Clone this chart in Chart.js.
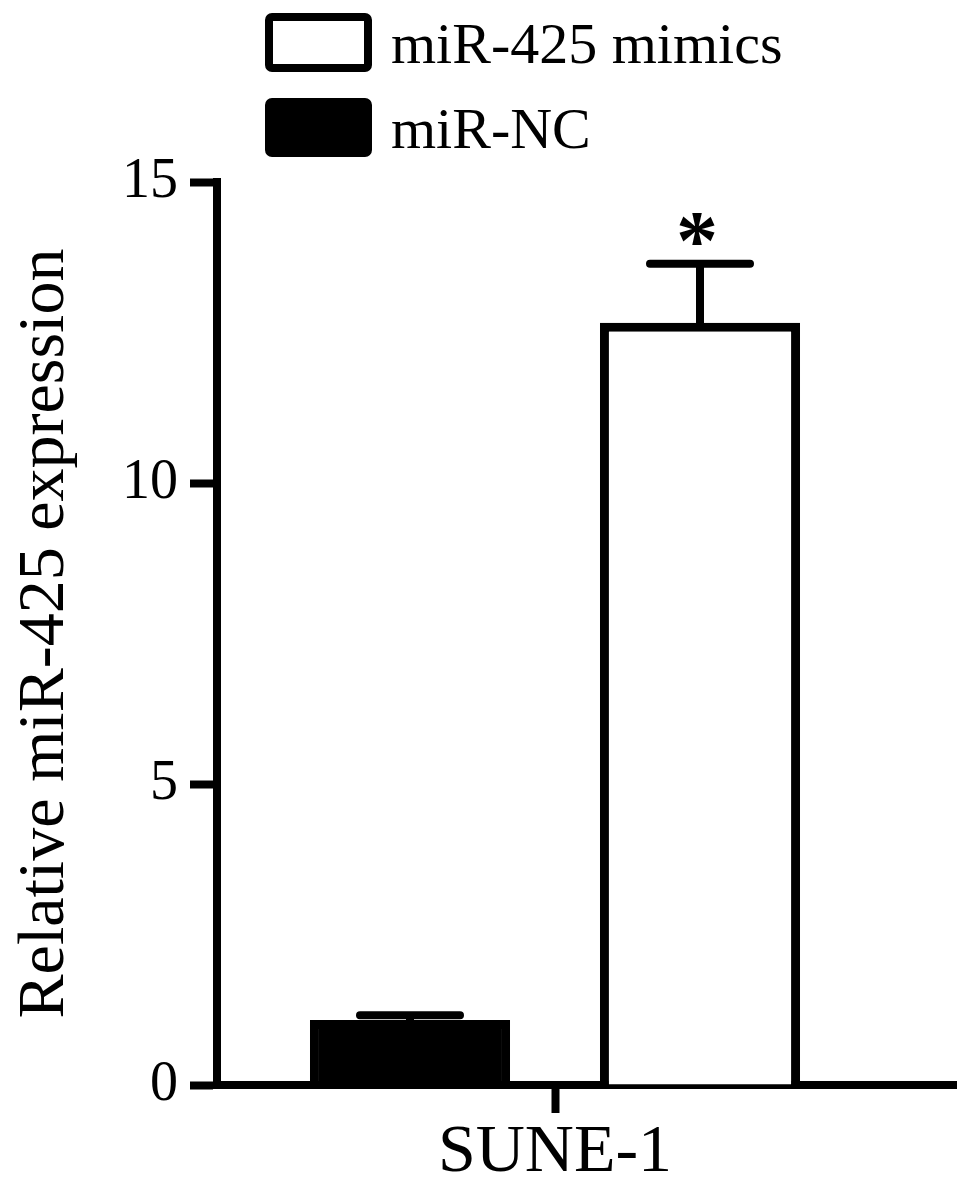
<!DOCTYPE html>
<html>
<head>
<meta charset="utf-8">
<script src="https://cdn.jsdelivr.net/npm/chart.js@4/dist/chart.umd.min.js"></script>
<style>
  html, body { margin: 0; padding: 0; background: #fff; }
  #wrap { width: 969px; height: 1188px; position: relative; }
</style>
</head>
<body>
<div id="wrap"><canvas id="chart"></canvas></div>
<script>
// ---------------- Data ----------------
const categories = ["SUNE-1"];
const ncLabel = "miR-NC";
const ncValues = [1.08];
const ncErrors = [0.08];
const mimicLabel = "miR-425 mimics";
const mimicValues = [12.66];
const mimicErrors = [0.98];
const mimicMarks = ["*"];
const yMin = 0, yMax = 15, yStep = 5;
const yTitle = "Relative miR-425 expression";

const SERIF = "'Liberation Serif', 'Times New Roman', serif";

// ---------------- Error bars + asterisk ----------------
const errorBars = {
  id: "errorBars",
  afterDatasetsDraw(chart) {
    const ctx = chart.ctx;
    const y = chart.scales.y;
    ctx.save();
    ctx.strokeStyle = "#000";
    ctx.lineWidth = 8;
    ctx.lineCap = "round";
    chart.data.datasets.forEach((ds, i) => {
      const meta = chart.getDatasetMeta(i);
      meta.data.forEach((bar, j) => {
        const err = ds.errors[j];
        const top = y.getPixelForValue(ds.data[j] + err);
        const base = y.getPixelForValue(ds.data[j]);
        ctx.beginPath();
        ctx.moveTo(bar.x, base);
        ctx.lineTo(bar.x, top);
        ctx.moveTo(bar.x - 50, top);
        ctx.lineTo(bar.x + 50, top);
        ctx.stroke();
        if (ds.marks && ds.marks[j]) {
          ctx.fillStyle = "#000";
          ctx.font = "bold 84px " + SERIF;
          ctx.textAlign = "center";
          ctx.textBaseline = "alphabetic";
          ctx.fillText(ds.marks[j], bar.x - 3, top + 5);
        }
      });
    });
    ctx.restore();
  }
};

// ---------------- Axis extension + legend ----------------
const decor = {
  id: "decor",
  afterDraw(chart) {
    const ctx = chart.ctx;
    const a = chart.chartArea;
    ctx.save();
    // x-axis line runs on past the last category
    ctx.strokeStyle = "#000";
    ctx.lineWidth = 8;
    ctx.beginPath();
    ctx.moveTo(a.right - 2, a.bottom);
    ctx.lineTo(a.right + 64, a.bottom);
    ctx.stroke();

    // legend, stacked, mimics first
    const items = chart.data.datasets.slice().reverse();
    ctx.font = "58px " + SERIF;
    ctx.textBaseline = "alphabetic";
    ctx.textAlign = "left";
    items.forEach((ds, k) => {
      const top = 17 + k * 85;
      ctx.fillStyle = ds.backgroundColor;
      ctx.strokeStyle = "#000";
      ctx.lineWidth = 8;
      ctx.beginPath();
      ctx.roundRect(269, top, 99, 51, 3);
      ctx.fill();
      ctx.stroke();
      ctx.fillStyle = "#000";
      ctx.fillText(ds.label, 391, top + 46);
    });
    ctx.restore();
  }
};

new Chart(document.getElementById("chart"), {
  type: "bar",
  data: {
    labels: categories,
    datasets: [
      {
        label: ncLabel,
        data: ncValues,
        errors: ncErrors,
        backgroundColor: "#000",
        borderColor: "#000",
        borderWidth: 9
      },
      {
        label: mimicLabel,
        data: mimicValues,
        errors: mimicErrors,
        marks: mimicMarks,
        backgroundColor: "#fff",
        borderColor: "#000",
        borderWidth: 9
      }
    ]
  },
  options: {
    responsive: true,
    maintainAspectRatio: false,
    animation: false,
    events: [],
    categoryPercentage: 0.858,
    barPercentage: 0.69,
    layout: { padding: { top: 182, right: 76, bottom: 0, left: 0 } },
    plugins: {
      legend: { display: false },
      tooltip: { enabled: false }
    },
    scales: {
      x: {
        afterFit(s) { s.height = 103; },
        border: { color: "#000", width: 8 },
        grid: {
          offset: false,
          drawOnChartArea: false,
          color: "#000",
          tickLength: 28,
          tickWidth: 8
        },
        ticks: {
          color: "#000",
          padding: -1,
          font: { family: SERIF, size: 68 }
        }
      },
      y: {
        min: yMin,
        max: yMax,
        afterFit(s) { s.width = 217; },
        border: { color: "#000", width: 8 },
        grid: {
          drawOnChartArea: false,
          color: "#000",
          tickLength: 27,
          tickWidth: 8
        },
        ticks: {
          stepSize: yStep,
          color: "#000",
          padding: 12,
          font: { family: SERIF, size: 56 }
        },
        title: {
          display: true,
          text: yTitle,
          color: "#000",
          padding: { top: 6, bottom: 0 },
          font: { family: SERIF, size: 66, weight: "normal" }
        }
      }
    }
  },
  plugins: [errorBars, decor]
});
</script>
</body>
</html>
